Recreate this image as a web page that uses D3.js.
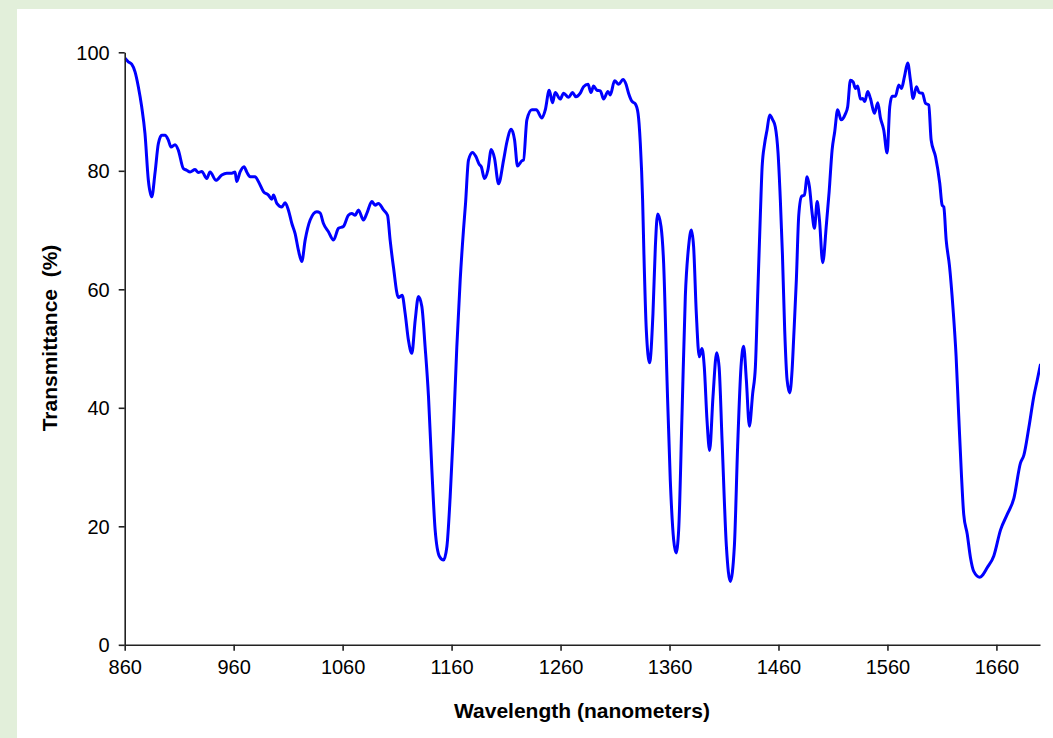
<!DOCTYPE html>
<html>
<head>
<meta charset="utf-8">
<script src="https://cdn.jsdelivr.net/npm/d3@7"></script>
<style>
  html, body { margin: 0; padding: 0; background: #e2efda; }
  svg { display: block; }
  text { font-family: Arial, "Liberation Sans", sans-serif; fill: #000; }
</style>
</head>
<body>
<svg id="chart" width="1053" height="738"></svg>
<script>
// ---- data ----
const wavelength = [
 860.3,863.3,866.4,869.5,872.5,875.6,878.6,881.7,884.8,887.8,890.9,894,897,900,902.5,906.2,909.2,913.8,916.9,920,
 924.6,927.6,930.7,935.3,938.3,943.8,949.1,953.7,958.3,961.3,962.8,965.9,969.5,972,975.1,979.6,982.7,987.3,991.9,995,
 996.5,999.6,1004.2,1007.2,1010.2,1013.4,1016.4,1019.4,1022.5,1025.6,1030.2,1036.3,1039.3,1042.4,1047,1051.6,1056.2,1060.7,1065.3,1068.4,
 1071.5,1074.5,1079.1,1082.2,1086.8,1089.8,1092.9,1097.5,1101.2,1103.6,1106.6,1111.2,1114.6,1117.4,1120.4,1123.5,1126.6,1129.6,1132.7,1135.7,
 1138.8,1141.9,1144.9,1148.9,1152.6,1155.7,1158.7,1161.7,1164.8,1167.9,1170.9,1172.8,1175.5,1179.2,1182.3,1185.3,1187.2,1190.2,1193.3,1196.4,
 1199.4,1203.1,1207.7,1210.8,1214.7,1217.8,1220.5,1224.6,1226.0,1229.1,1233.7,1237.7,1242.9,1246,1249.6,1252.6,1255.1,1259.7,1262.8,1267.3,
 1271,1274.1,1278.1,1281.1,1285.2,1287.9,1290.3,1293.4,1296.5,1299.5,1303.5,1305.6,1309.6,1313.3,1317.3,1320.1,1322.4,1325.6,1328.6,1331.1,
 1333.2,1335.3,1336.5,1338.7,1341.7,1344.8,1347,1349.1,1352.2,1354.6,1357.7,1360.7,1363.8,1366,1368.4,1371.5,1374.5,1377.5,1380,1382.1,
 1384.6,1387.3,1389.8,1391.9,1394.4,1396.8,1399.9,1403.3,1405.5,1408.2,1412.2,1415.8,1419.5,1422.5,1425.6,1428,1430.5,1433.3,1436.3,1438.8,
 1440.9,1443.4,1445,1447.3,1449.5,1451.9,1454.7,1457.1,1459.6,1461.7,1463.6,1465.7,1467.9,1470.3,1472.5,1474,1476.4,1478.6,1481.2,1483.8,
 1486.3,1488.4,1490.9,1493,1495.5,1497.6,1500.6,1504,1506.5,1509.2,1511.6,1514.3,1517.5,1521.4,1523.5,1526,1528.5,1530.6,1532.7,1535.2,
 1537.2,1539.2,1541.9,1544.4,1548.1,1551.1,1553.6,1556.6,1559.7,1562.1,1564.3,1567.4,1570.4,1572.9,1575.6,1578.6,1581.1,1583.6,1586.6,1589.1,
 1592.1,1594.9,1597.9,1600.1,1604.1,1608,1610.2,1611.7,1613.9,1616.9,1620.2,1623,1625.4,1627.9,1630,1633.2,1636.2,1639.2,1644.8,1647.9,
 1651.5,1657.6,1663.8,1669.9,1676,1682.1,1685.2,1689.8,1694.4,1697.5,1700.5
];
const transmittance = [
 99.0,98.4,98.0,96.7,94.2,90.8,86.3,78.4,75.6,79.6,84.6,86.0,86.0,85.2,84.0,84.4,83.5,80.4,80.1,79.8,
 80.2,79.7,79.9,78.7,79.8,78.4,79.3,79.6,79.6,79.8,78.2,79.8,80.7,79.8,79.0,79.0,78.2,76.5,75.9,75.2,
 75.9,74.5,73.9,74.6,73.4,71.1,69.4,66.6,64.7,68.3,71.7,73.1,72.9,71.1,69.7,68.3,70.3,70.6,72.5,72.8,
 72.5,73.4,71.7,72.8,74.8,74.2,74.5,73.4,72.5,68.3,63.8,58.6,59.0,55.9,51.4,49.2,54.8,58.8,57.1,50.3,
 41.9,29.5,19.4,14.9,14.3,16.6,25.0,36.3,50.3,61.6,70.0,74.5,81.8,83.1,82.4,81.1,80.7,78.7,80.1,83.6,
 82.1,77.8,81.8,84.9,87.0,85.2,80.8,81.7,81.8,88.6,90.3,90.3,88.9,90.3,93.6,91.5,93.2,92.1,93.1,92.4,
 93.2,92.5,93.1,94.2,94.6,93.2,94.3,93.6,93.5,92.1,93.4,92.8,95.2,94.6,95.4,94.6,93.1,91.7,91.3,89.7,
 84.6,75.1,66.0,53.1,47.6,55.9,67.2,72.7,70.6,64.4,44.7,27.8,17.7,15.5,19.4,39.1,58.8,67.2,70.0,67.2,
 55.9,48.6,50.0,46.9,37.9,32.8,41.9,49.3,46.9,34.6,16.6,10.7,16.6,33.4,46.9,50.4,44.7,36.9,42.4,46.9,
 58.8,72.8,80.7,84.6,86.9,89.4,88.6,87.4,83.0,75.1,66.0,53.1,44.7,42.5,46.4,52.0,61.6,72.5,75.7,75.9,
 79.0,77.3,72.8,70.3,74.8,71.7,64.5,71.0,76.5,83.5,86.6,90.3,88.6,89.6,90.8,95.3,95.0,93.9,94.3,92.1,
 92.2,91.7,93.4,92.2,89.7,91.5,88.9,86.9,83.0,90.8,92.6,92.6,94.5,93.9,95.9,98.2,95.3,92.2,94.2,93.2,
 93.1,91.4,91.1,85.2,82.4,77.9,74.2,73.9,68.3,64.0,56.7,48.7,38.7,28.7,22.0,18.7,14.7,12.4,11.4,11.9,
 13.0,15.0,19.4,22.0,24.7,30.7,32.0,36.7,42.0,44.7,47.4
];
const xTicks = [860, 960, 1060, 1160, 1260, 1360, 1460, 1560, 1660];
const yTicks = [0, 20, 40, 60, 80, 100];
const xTitle = "Wavelength (nanometers)";
const yTitle = "Transmittance  (%)";

// ---- layout ----
const W = 1053, H = 738;
const plot = { left: 124.7, right: 1040, top: 52.3, bottom: 644.8 };

const svg = d3.select("#chart");

// white panel on green background
svg.append("rect")
  .attr("x", 17).attr("y", 9)
  .attr("width", W - 17).attr("height", H - 9)
  .attr("fill", "#ffffff");

const x = d3.scaleLinear().domain([860, 1700]).range([plot.left, plot.right]);
const y = d3.scaleLinear().domain([0, 100]).range([plot.bottom, plot.top]);

svg.append("defs").append("clipPath").attr("id", "clip")
  .append("rect")
  .attr("x", plot.left).attr("y", plot.top - 5)
  .attr("width", plot.right - plot.left).attr("height", plot.bottom - plot.top + 5);

const data = wavelength.map((w, i) => ({ w, t: transmittance[i] }));

const line = d3.line()
  .x(d => x(d.w))
  .y(d => y(d.t))
  .curve(d3.curveMonotoneX);

svg.append("path")
  .datum(data)
  .attr("clip-path", "url(#clip)")
  .attr("fill", "none")
  .attr("stroke", "#0000ff")
  .attr("stroke-width", 3)
  .attr("stroke-linejoin", "round")
  .attr("d", line);

// axes
const fmt = d3.format("d");
const xAxis = d3.axisBottom(x).tickValues(xTicks).tickFormat(fmt).tickSize(6).tickSizeOuter(0).tickPadding(9);
const yAxis = d3.axisLeft(y).tickValues(yTicks).tickFormat(fmt).tickSize(6).tickSizeOuter(0).tickPadding(9);

const gx = svg.append("g").attr("transform", `translate(0,${plot.bottom})`).call(xAxis);
const gy = svg.append("g").attr("transform", `translate(${plot.left},0)`).call(yAxis);

[gx, gy].forEach(g => {
  g.select(".domain").attr("stroke", "#222").attr("stroke-width", 1.6);
  g.selectAll(".tick line").attr("stroke", "#222").attr("stroke-width", 1.6);
  g.selectAll(".tick text")
    .style("font-family", 'Arial, "Liberation Sans", sans-serif')
    .style("font-size", "20px")
    .attr("fill", "#000");
});
gy.selectAll(".tick text").attr("dy", "0.35em");

// axis titles
svg.append("text")
  .attr("x", 582)
  .attr("y", 718)
  .attr("text-anchor", "middle")
  .style("font-size", "21px")
  .style("font-weight", "bold")
  .text(xTitle);

svg.append("text")
  .attr("transform", `translate(57,338) rotate(-90)`)
  .attr("text-anchor", "middle")
  .style("font-size", "21px")
  .style("font-weight", "bold")
  .style("white-space", "pre")
  .attr("xml:space", "preserve")
  .text(yTitle);
</script>
</body>
</html>
